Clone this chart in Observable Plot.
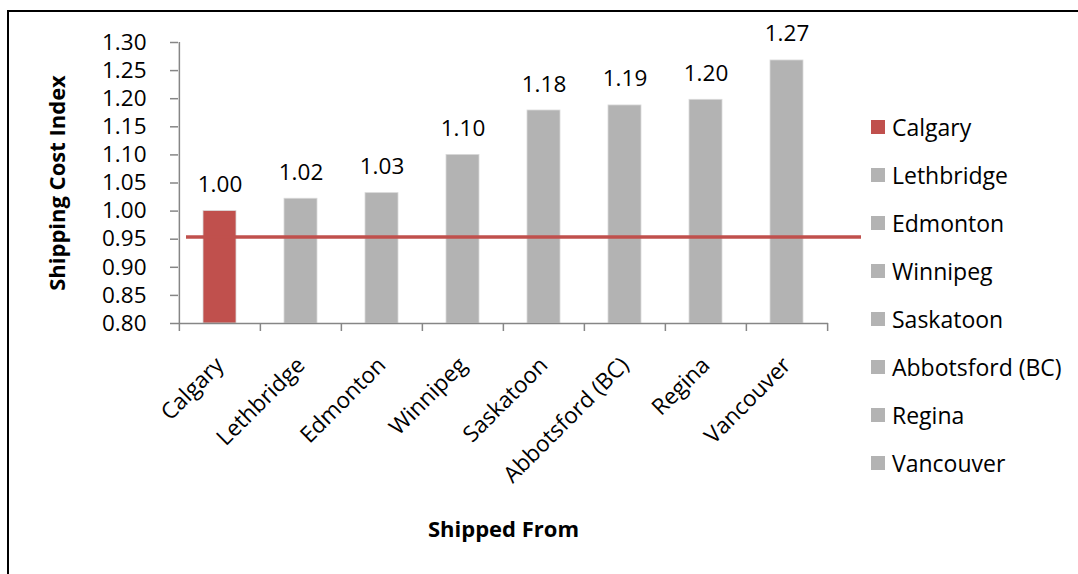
<!DOCTYPE html>
<html>
<head>
<meta charset="utf-8">
<script src="https://cdn.jsdelivr.net/npm/d3@7"></script>
<script src="https://cdn.jsdelivr.net/npm/@observablehq/plot@0.6"></script>
<style>
  html, body { margin: 0; padding: 0; background: #fff; }
  body { width: 1078px; height: 574px; position: relative; overflow: hidden; font-family: "Open Sans", sans-serif; }
  #frame { position: absolute; left: 7px; top: 10px; width: 1100px; height: 600px; border-left: 2px solid #000; border-top: 2px solid #000; }
  #chart { position: absolute; left: 0; top: 0; }
  #legend { position: absolute; left: 871px; top: 0; }
  .item { position: absolute; left: 0; width: 220px; height: 30px; display: flex; align-items: center; font-size: 23px; color: #000; white-space: nowrap; }
  .sw { width: 14px; height: 14px; margin-right: 7px; flex: none; }
</style>
</head>
<body>
<div id="frame"></div>
<div id="chart"></div>
<div id="legend"></div>
<script>
const categories = ["Calgary", "Lethbridge", "Edmonton", "Winnipeg", "Saskatoon", "Abbotsford (BC)", "Regina", "Vancouver"];
const values = [1.00, 1.022, 1.032, 1.10, 1.179, 1.188, 1.198, 1.268];
const valueLabels = ["1.00", "1.02", "1.03", "1.10", "1.18", "1.19", "1.20", "1.27"];
const yTicks = [0.80, 0.85, 0.90, 0.95, 1.00, 1.05, 1.10, 1.15, 1.20, 1.25, 1.30];
const referenceValue = [0.954];
const colors = ["#c0504d", "#b3b3b3", "#b3b3b3", "#b3b3b3", "#b3b3b3", "#b3b3b3", "#b3b3b3", "#b3b3b3"];

const data = categories.map((c, i) => ({city: c, value: values[i], label: valueLabels[i], color: colors[i]}));

const W = 1078, H = 574;
const mL = 178, mR = 250, mT = 42, mB = 251;
const bw = (W - mL - mR) / categories.length;
const axisGray = "#868686";

const chart = Plot.plot({
  width: W,
  height: H,
  marginLeft: mL,
  marginRight: mR,
  marginTop: mT,
  marginBottom: mB,
  style: {fontFamily: "Open Sans, sans-serif", fontSize: "22px", color: "#000", background: "transparent", overflow: "visible"},
  x: {domain: categories, padding: 0},
  y: {domain: [0.80, 1.30]},
  marks: [
    Plot.barY(data, {x: "city", y1: 0.80, y2: "value", fill: "color", stroke: "#d9d9d9", strokeWidth: 0.8, insetLeft: 24, insetRight: 24}),
    Plot.text(data, {x: "city", y: "value", text: "label", lineAnchor: "bottom", dy: -19, fill: "#000", fontSize: 22.5}),
    Plot.ruleY(referenceValue, {stroke: "#c0504d", strokeWidth: 3.5, insetLeft: 8, insetRight: -33}),
    Plot.ruleY([0.80], {stroke: axisGray, strokeWidth: 1.5}),
    Plot.ruleX([categories[0]], {y1: 0.80, y2: 1.30, dx: -bw / 2, stroke: axisGray, strokeWidth: 1.5}),
    Plot.ruleX(categories, {y1: 0.80, y2: 0.80, insetBottom: -8, dx: -bw / 2, stroke: axisGray, strokeWidth: 1.5}),
    Plot.ruleX([categories[categories.length - 1]], {y1: 0.80, y2: 0.80, insetBottom: -8, dx: bw / 2, stroke: axisGray, strokeWidth: 1.5}),
    Plot.axisY({ticks: yTicks, tickFormat: d3.format(".2f"), tickSize: 8, tickPadding: 24, stroke: axisGray, strokeWidth: 1.5, fontSize: 22.5, fill: "#000",
      label: "Shipping Cost Index", labelAnchor: "center", labelOffset: 129, labelArrow: "none"}),
    Plot.axisX({tickSize: 0, tickRotate: -45, tickPadding: 38, fontSize: 22.5, fill: "#000",
      label: "Shipped From", labelAnchor: "center", labelOffset: 213, labelArrow: "none"})
  ]
});
document.getElementById("chart").appendChild(chart);

// style axis titles bold and larger
chart.querySelectorAll("g[aria-label='y-axis label'], g[aria-label='x-axis label']").forEach(g => {
  g.setAttribute("font-weight", "bold");
  g.setAttribute("font-size", "22");
  g.style.fontSize = "22px";
  g.style.fontWeight = "bold";
  g.querySelectorAll("text").forEach(t => { t.style.fontSize = "22px"; t.style.fontWeight = "bold"; });
});

const legend = document.getElementById("legend");
categories.forEach((c, i) => {
  const div = document.createElement("div");
  div.className = "item";
  div.style.top = (127 + 48 * i - 15) + "px";
  div.innerHTML = `<span class="sw" style="background:${colors[i]}"></span><span>${c}</span>`;
  legend.appendChild(div);
});
</script>
</body>
</html>
